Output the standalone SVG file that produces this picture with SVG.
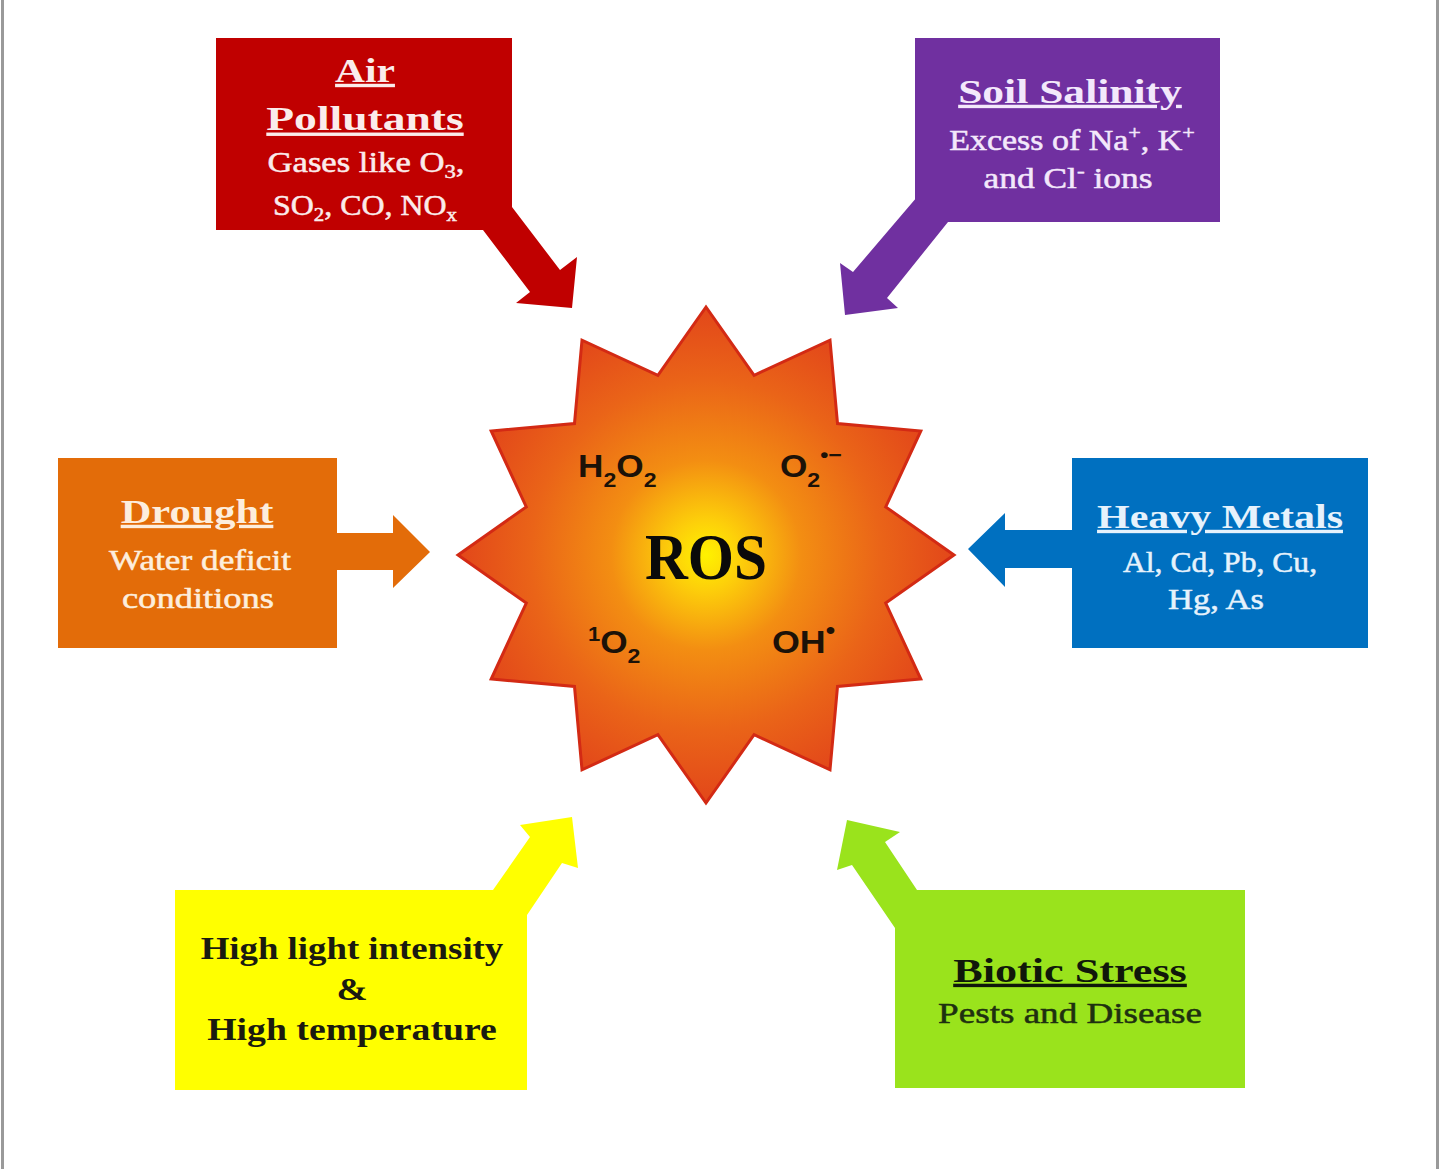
<svg xmlns="http://www.w3.org/2000/svg" width="1440" height="1169" viewBox="0 0 1440 1169">
<defs>
<radialGradient id="sun" cx="706" cy="555" r="250" gradientUnits="userSpaceOnUse">
<stop offset="0" stop-color="#fff200"/>
<stop offset="0.14" stop-color="#fdcf0a"/>
<stop offset="0.38" stop-color="#f38e12"/>
<stop offset="0.7" stop-color="#ea6418"/>
<stop offset="1" stop-color="#e2461a"/>
</radialGradient>
<style>
.tt{font-family:"Liberation Serif",serif;font-weight:bold;font-size:34px;text-decoration:underline;text-anchor:middle}
.ts{font-family:"Liberation Serif",serif;font-size:29px;text-anchor:middle;stroke-width:0.5px}
.tb{font-family:"Liberation Serif",serif;font-weight:bold;font-size:32px;text-anchor:middle;fill:#1a1a10}
.sp{font-family:"Liberation Sans",sans-serif;font-weight:bold;font-size:32px;fill:#1c1208}
.ros{font-family:"Liberation Serif",serif;font-weight:bold;font-size:66px;text-anchor:middle;fill:#0a0a0a}
.red{fill:#c00000}.pur{fill:#7030a0}.org{fill:#e36c09}.blu{fill:#0070c0}.yel{fill:#ffff00}.grn{fill:#9ae31c}
</style>
</defs>
<rect x="0" y="0" width="1440" height="1169" fill="#ffffff"/>
<line x1="2.5" y1="0" x2="2.5" y2="1169" stroke="#9a9a9a" stroke-width="3"/>
<line x1="1437.5" y1="0" x2="1437.5" y2="1169" stroke="#9a9a9a" stroke-width="3"/>

<g id="connectors">
<polygon class="red" points="483,230 530,292 516,303 572,308 577,257 560,270 512,207"/>
<polygon class="pur" points="917,197 853,272 840,263 845,315 898,308 887,298 948,222"/>
<polygon class="org" points="336,533 393,533 393,515 430,552 393,588 393,570 336,570"/>
<polygon class="blu" points="1073,530 1005,530 1005,513 968,549 1005,587 1005,568 1073,568"/>
<polygon class="yel" points="493,890 530,837 520,825 572,817 578,868 562,863 527,915"/>
<polygon class="grn" points="917,890 885,842 900,832 847,820 837,870 852,865 895,928"/>
</g>

<g id="node-ros">
<polygon fill="url(#sun)" stroke="#d32a14" stroke-width="3" stroke-linejoin="miter" points="706,307 754.1,375.3 830,340.2 837.5,423.5 920.8,431 885.7,506.9 954,555 885.7,603.1 920.8,679 837.5,686.5 830,769.8 754.1,734.7 706,803 657.9,734.7 582,769.8 574.5,686.5 491.2,679 526.3,603.1 458,555 526.3,506.9 491.2,431 574.5,423.5 582,340.2 657.9,375.3"/>
<text class="ros" transform="translate(706,579) scale(0.9,1)">ROS</text>
<text class="sp" transform="translate(578,477) scale(1.1,1)">H<tspan dy="10" font-size="21">2</tspan><tspan dy="-10">O</tspan><tspan dy="10" font-size="21">2</tspan></text>
<text class="sp" transform="translate(780,477) scale(1.1,1)">O<tspan dy="10" font-size="21">2</tspan><tspan dy="-25" font-size="21">•−</tspan></text>
<text class="sp" transform="translate(588,641) scale(1.1,1)"><tspan font-size="20">1</tspan><tspan dy="12">O</tspan><tspan dy="10" font-size="21">2</tspan></text>
<text class="sp" transform="translate(772,653) scale(1.12,1)">OH<tspan dy="-14" font-size="24">•</tspan></text>
</g>

<g id="node-air">
<rect class="red" x="216" y="38" width="296" height="192"/>
<g fill="#fbeceb" stroke="#fbeceb">
<text class="tt" stroke="none" transform="translate(365,82) scale(1.22,1)">Air</text>
<text class="tt" stroke="none" transform="translate(365,130) scale(1.34,1)">Pollutants</text>
<text class="ts" transform="translate(366,172) scale(1.195,1)">Gases like O<tspan font-size="19" dy="6">3</tspan><tspan dy="-6">,</tspan></text>
<text class="ts" transform="translate(365,215) scale(1.1,1)">SO<tspan font-size="19" dy="6">2</tspan><tspan dy="-6">, CO, NO</tspan><tspan font-size="19" dy="6">x</tspan></text>
</g>
</g>

<g id="node-soil">
<rect class="pur" x="915" y="38" width="305" height="184"/>
<g fill="#f3e8fb" stroke="#f3e8fb">
<text class="tt" stroke="none" transform="translate(1070,103) scale(1.28,1)">Soil Salinity</text>
<text class="ts" transform="translate(1072,150) scale(1.17,1)">Excess of Na<tspan font-size="19" dy="-11">+</tspan><tspan dy="11">, K</tspan><tspan font-size="19" dy="-11">+</tspan></text>
<text class="ts" transform="translate(1068,188) scale(1.22,1)">and Cl<tspan font-size="19" dy="-11">-</tspan><tspan dy="11"> ions</tspan></text>
</g>
</g>

<g id="node-drought">
<rect class="org" x="58" y="458" width="279" height="190"/>
<g fill="#fdeedd" stroke="#fdeedd">
<text class="tt" stroke="none" transform="translate(197,523) scale(1.25,1)">Drought</text>
<text class="ts" transform="translate(200,570) scale(1.215,1)">Water deficit</text>
<text class="ts" transform="translate(198,608) scale(1.26,1)">conditions</text>
</g>
</g>

<g id="node-heavy">
<rect class="blu" x="1072" y="458" width="296" height="190"/>
<g fill="#e6f2fc" stroke="#e6f2fc">
<text class="tt" stroke="none" transform="translate(1220,528) scale(1.235,1)">Heavy Metals</text>
<text class="ts" transform="translate(1220,572) scale(1.09,1)">Al, Cd, Pb, Cu,</text>
<text class="ts" transform="translate(1216,609) scale(1.19,1)">Hg, As</text>
</g>
</g>

<g id="node-light">
<rect class="yel" x="175" y="890" width="352" height="200"/>
<text class="tb" transform="translate(352,959) scale(1.15,1)">High light intensity</text>
<text class="tb" transform="translate(352,1000) scale(1.17,1)">&amp;</text>
<text class="tb" transform="translate(352,1040) scale(1.18,1)">High temperature</text>
</g>

<g id="node-biotic">
<rect class="grn" x="895" y="890" width="350" height="198"/>
<text class="tt" fill="#10180a" transform="translate(1070,982) scale(1.3,1)">Biotic Stress</text>
<text class="ts" fill="#1e3010" stroke="#1e3010" transform="translate(1070,1023) scale(1.28,1)">Pests and Disease</text>
</g>
</svg>
